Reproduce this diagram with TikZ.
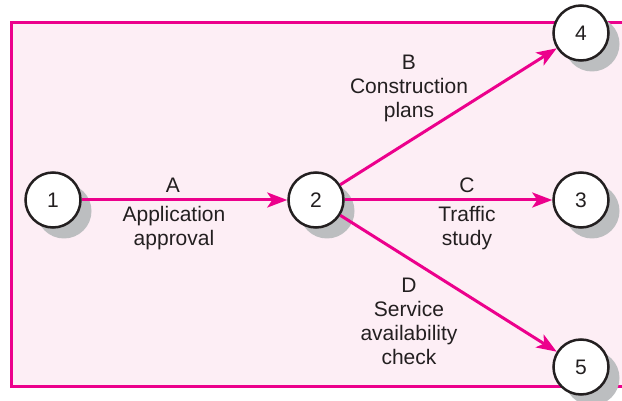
\documentclass[tikz,border=0pt]{standalone}
\usepackage{fontspec}
\setmainfont{Liberation Sans}
\usetikzlibrary{arrows.meta,shadows}
\definecolor{mag}{HTML}{EC008C}
\definecolor{bgpink}{HTML}{FDEEF5}
\definecolor{shade}{HTML}{BCBEC0}
\definecolor{ink}{HTML}{231F20}
\begin{document}
\begin{tikzpicture}[x=1pt,y=-1pt,
  evt/.style={circle,draw=ink,line width=2.5pt,fill=white,minimum size=55pt,inner sep=0pt,
    font=\fontsize{21}{24}\selectfont,text=ink,
    drop shadow={shadow xshift=11pt,shadow yshift=-11pt,fill=shade,opacity=1}},
  act/.style={draw=mag,line width=3pt,-{Stealth[length=20pt,width=15pt,inset=5pt]}},
  lbl/.style={font=\fontsize{21}{24}\selectfont,text=ink,align=center,inner sep=0pt}]
\useasboundingbox (0,0) rectangle (622,401);
\clip (0,0) rectangle (622,401);
\draw[draw=mag,fill=bgpink,line width=3pt] (11,23) rectangle (640,386);
\node[evt] (n1) at (53,200) {1};
\node[evt] (n2) at (316,200) {2};
\node[evt] (n3) at (581,200) {3};
\node[evt] (n4) at (581,33) {4};
\node[evt] (n5) at (581,367) {5};
\draw[act] (n1) -- (n2);
\draw[act] (n2) -- (n4);
\draw[act] (n2) -- (n3);
\draw[act] (n2) -- (n5);
\node[lbl] (la) at (173,185) {A};
\node[lbl] (da) at (174,228) {Application\\approval};
\node[lbl] (lb) at (409,62) {B};
\node[lbl] (db) at (409,100) {Construction\\plans};
\node[lbl] (lc) at (467,185) {C};
\node[lbl] (dc) at (467,228) {Traffic\\study};
\node[lbl] (ld) at (409,285) {D};
\node[lbl] (dd) at (409,333) {Service\\availability\\check};
\end{tikzpicture}
\end{document}
